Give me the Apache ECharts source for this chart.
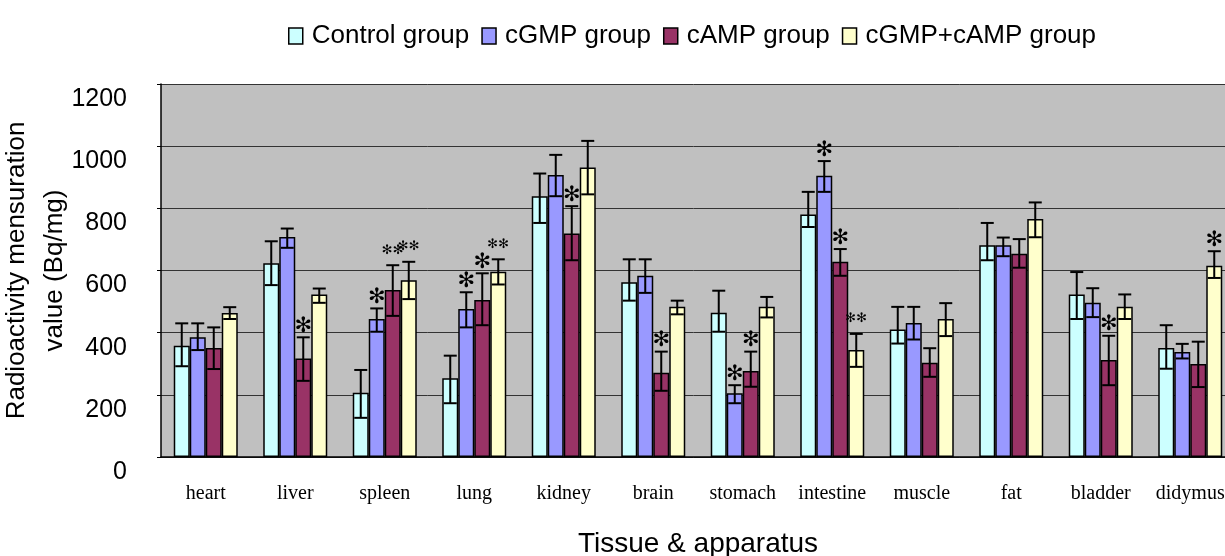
<!DOCTYPE html>
<html><head><meta charset="utf-8">
<script src="https://cdn.jsdelivr.net/npm/echarts@6/dist/echarts.min.js"></script>
<style>html,body{margin:0;padding:0;background:#fff}#c{width:1225px;height:556px}</style>
</head><body><div id="c"></div>
<script>
const categories = ['heart','liver','spleen','lung','kidney','brain','stomach','intestine','muscle','fat','bladder','didymus'];
const seriesNames = ['Control group','cGMP group','cAMP group','cGMP+cAMP group'];
const yTicks = [0, 200, 400, 600, 800, 1000, 1200];

const control   = [358, 623, 207, 253, 839, 562, 464, 780, 410, 681, 523, 351];
const controlHi = [430, 694, 280, 326, 912, 636, 535, 853, 483, 753, 595, 424];
const controlLo = [292, 553, 126, 173, 753, 503, 403, 740, 365, 633, 444, 284];
const controlMarks = ['','','','','','','','','','','',''];

const cgmp   = [385, 708, 444, 476, 907, 583, 205, 905, 431, 681, 496, 338];
const cgmpHi = [430, 735, 478, 530, 972, 636, 231, 952, 483, 706, 543, 364];
const cgmpLo = [344, 673, 403, 417, 839, 528, 173, 853, 378, 646, 450, 317];
const cgmpMarks = ['','','*','*','','','*','*','','','',''];

const camp   = [351, 317, 537, 505, 719, 271, 277, 628, 303, 654, 312, 299];
const campHi = [417, 385, 617, 591, 807, 339, 339, 669, 350, 701, 390, 371];
const campLo = [283, 245, 454, 424, 633, 213, 226, 583, 258, 609, 231, 225];
const campMarks = ['','*','**','*','*','*','*','*','','','*',''];

const combo   = [463, 523, 569, 596, 931, 483, 483, 344, 444, 766, 483, 615];
const comboHi = [482, 542, 628, 636, 1017, 503, 515, 396, 495, 819, 523, 662];
const comboLo = [444, 496, 508, 555, 845, 459, 449, 290, 389, 707, 444, 576];
const comboMarks = ['','','**','**','','','','**','','','','*'];

const colors = ['#CCFFFF', '#9999FF', '#993366', '#FFFFCC'];
const groups = [
  {values: control, hi: controlHi, lo: controlLo, marks: controlMarks},
  {values: cgmp, hi: cgmpHi, lo: cgmpLo, marks: cgmpMarks},
  {values: camp, hi: campHi, lo: campLo, marks: campMarks},
  {values: combo, hi: comboHi, lo: comboLo, marks: comboMarks}
];
const BAR_W = 16;

const series = [];
groups.forEach((g, i) => {
  series.push({
    type: 'bar', name: seriesNames[i], data: g.values,
    barWidth: BAR_W, barGap: '0%',
    itemStyle: {color: colors[i], borderColor: '#000', borderWidth: 1.5},
    z: 2
  });
});
groups.forEach((g, i) => {
  series.push({
    type: 'custom', name: 'err' + i, z: 5,
    encode: {x: 0, y: [1, 2]},
    data: categories.map((c, k) => [k, g.hi[k], g.lo[k]]),
    renderItem: (params, api) => {
      const k = api.value(0);
      const pHi = api.coord([k, api.value(1)]);
      const pLo = api.coord([k, api.value(2)]);
      const x = pHi[0] + (i - 1.5) * BAR_W;
      const cap = 6.5;
      const st = {stroke: '#000', lineWidth: 2};
      const children = [
        {type: 'line', shape: {x1: x, y1: pHi[1], x2: x, y2: pLo[1]}, style: st},
        {type: 'line', shape: {x1: x - cap, y1: pHi[1], x2: x + cap, y2: pHi[1]}, style: st},
        {type: 'line', shape: {x1: x - cap, y1: pLo[1], x2: x + cap, y2: pLo[1]}, style: st}
      ];
      const mark = g.marks[params.dataIndex];
      if (mark) {
        const dbl = mark.length > 1;
        children.push({type: 'text', style: {
          text: dbl ? '✻✻' : '✻', x: x, y: pHi[1] - (dbl ? 15 : 11),
          align: 'center', verticalAlign: 'middle',
          fontSize: dbl ? 13 : 21, fontFamily: 'DejaVu Sans', fill: '#000'
        }});
      }
      return {type: 'group', children};
    }
  });
});

const chart = echarts.init(document.getElementById('c'), null, {renderer: 'canvas'});
chart.setOption({
  animation: false,
  backgroundColor: '#fff',
  legend: {
    data: seriesNames, left: 283, top: 18,
    itemWidth: 14, itemHeight: 16, itemGap: 12, icon: 'rect',
    itemStyle: {borderColor: '#000', borderWidth: 1.5},
    textStyle: {fontSize: 26, fontFamily: 'Liberation Sans', color: '#000', padding: [0, 0, 0, 4]}
  },
  grid: {left: 161, right: -10, top: 84, bottom: 99, show: true, backgroundColor: '#c0c0c0', borderWidth: 0, outerBoundsMode: 'none', containLabel: false},
  xAxis: {
    type: 'category', data: categories,
    name: 'Tissue & apparatus', nameLocation: 'middle', nameGap: 73, nameMoveOverlap: false,
    nameTextStyle: {fontSize: 28, fontFamily: 'Liberation Sans', color: '#000'},
    axisLine: {lineStyle: {color: '#000', width: 1.5}},
    axisTick: {inside: true, length: 6, lineStyle: {color: '#333'}},
    axisLabel: {interval: 0, fontSize: 20, fontFamily: 'Liberation Serif', color: '#000', margin: 27}
  },
  yAxis: {
    type: 'value', min: yTicks[0], max: yTicks[yTicks.length - 1], interval: 200,
    name: 'Radioactivity mensuration\nvalue (Bq/mg)', nameLocation: 'middle', nameRotate: 90, nameGap: 87, nameMoveOverlap: false,
    nameTextStyle: {fontSize: 26, lineHeight: 38, fontFamily: 'Liberation Sans', color: '#000'},
    axisLine: {show: true, lineStyle: {color: '#000', width: 1.5}},
    axisTick: {show: true, length: 4, lineStyle: {color: '#000'}},
    splitLine: {lineStyle: {color: '#333', width: 1}},
    axisLabel: {fontSize: 25, lineHeight: 30, fontFamily: 'Liberation Sans', color: '#000', margin: 34, verticalAlign: 'top', formatter: v => String(v)}
  },
  series: series
});
</script>
</body></html>
